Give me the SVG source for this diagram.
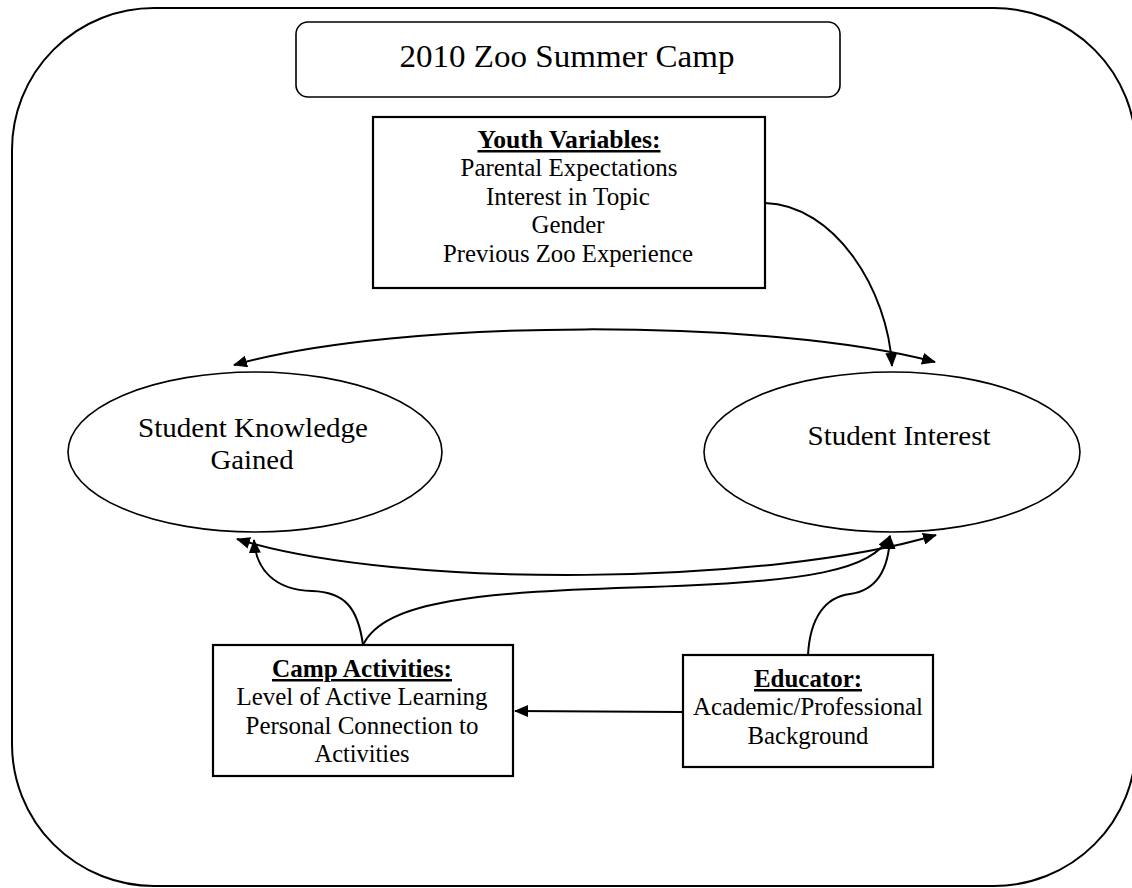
<svg xmlns="http://www.w3.org/2000/svg" width="1132" height="888" viewBox="0 0 1132 888">
  <style>
    .frame { fill: #fff; stroke: #000; stroke-width: 2; }
    .box { fill: #fff; stroke: #000; stroke-width: 2.2; }
    .wire { fill: none; stroke: #000; stroke-width: 2; }
    text { font-family: "Liberation Serif", "Times New Roman", serif; fill: #000; text-anchor: middle; }
    .t { font-size: 25px; }
    .h { font-size: 25px; font-weight: bold; text-decoration: underline; }
    .title { font-size: 32px; }
    .oval { font-size: 27px; }
  </style>
  <defs>
    <marker id="arrow" viewBox="0 0 14 12" refX="13" refY="6" markerWidth="14" markerHeight="12" markerUnits="userSpaceOnUse" orient="auto-start-reverse">
      <path d="M0,0 L14,6 L0,12 Z" fill="#000"/>
    </marker>
  </defs>

  <rect width="1132" height="888" fill="#fff"/>

  <!-- outer camp boundary -->
  <rect id="camp-boundary" class="frame" x="12" y="8" width="1124" height="878" rx="142" ry="142"/>

  <g id="title">
    <rect class="box" x="296" y="22" width="544" height="75" rx="12" ry="12" style="stroke-width:1.6"/>
    <text class="title" x="567" y="67" textLength="335" lengthAdjust="spacingAndGlyphs">2010 Zoo Summer Camp</text>
  </g>

  <g id="youth-variables">
    <rect class="box" x="373" y="117" width="392" height="171"/>
    <text class="h" x="569" y="148" textLength="183" lengthAdjust="spacingAndGlyphs">Youth Variables:</text>
    <text class="t" x="569" y="176" textLength="217" lengthAdjust="spacingAndGlyphs">Parental Expectations</text>
    <text class="t" x="568" y="205" textLength="164" lengthAdjust="spacingAndGlyphs">Interest in Topic</text>
    <text class="t" x="568" y="233" textLength="73" lengthAdjust="spacingAndGlyphs">Gender</text>
    <text class="t" x="568" y="262" textLength="250" lengthAdjust="spacingAndGlyphs">Previous Zoo Experience</text>
  </g>

  <g id="knowledge">
    <ellipse class="frame" cx="255" cy="452" rx="187" ry="80" style="stroke-width:1.6"/>
    <text class="oval" x="253" y="437" textLength="230" lengthAdjust="spacingAndGlyphs">Student Knowledge</text>
    <text class="oval" x="252" y="469" textLength="83" lengthAdjust="spacingAndGlyphs">Gained</text>
  </g>

  <g id="interest">
    <ellipse class="frame" cx="892" cy="452" rx="188" ry="80" style="stroke-width:1.6"/>
    <text class="oval" x="899" y="445" textLength="183" lengthAdjust="spacingAndGlyphs">Student Interest</text>
  </g>

  <g id="camp-activities">
    <rect class="box" x="213" y="645" width="300" height="131"/>
    <text class="h" x="362" y="677" textLength="180" lengthAdjust="spacingAndGlyphs">Camp Activities:</text>
    <text class="t" x="362" y="705" textLength="251" lengthAdjust="spacingAndGlyphs">Level of Active Learning</text>
    <text class="t" x="362" y="734" textLength="233" lengthAdjust="spacingAndGlyphs">Personal Connection to</text>
    <text class="t" x="362" y="762" textLength="95" lengthAdjust="spacingAndGlyphs">Activities</text>
  </g>

  <g id="educator">
    <rect class="box" x="683" y="655" width="250" height="112"/>
    <text class="h" x="808" y="687" textLength="108" lengthAdjust="spacingAndGlyphs">Educator:</text>
    <text class="t" x="808" y="715" textLength="230" lengthAdjust="spacingAndGlyphs">Academic/Professional</text>
    <text class="t" x="808" y="744" textLength="121" lengthAdjust="spacingAndGlyphs">Background</text>
  </g>

  <g id="connectors">
    <!-- youth variables to interest -->
    <path class="wire" d="M765,203 C835,205 888,290 892,366" marker-end="url(#arrow)"/>
    <!-- knowledge <-> interest, upper -->
    <path class="wire" d="M234,365 C400,318 770,318 935,362" marker-start="url(#arrow)" marker-end="url(#arrow)"/>
    <!-- knowledge <-> interest, lower -->
    <path class="wire" d="M237,539 C400,590 770,585 936,535" marker-start="url(#arrow)" marker-end="url(#arrow)"/>
    <!-- camp activities to knowledge -->
    <path class="wire" d="M363,645 C358,608 345,592 312,591 C275,590 256,570 254,540" marker-end="url(#arrow)"/>
    <!-- camp activities to interest -->
    <path class="wire" d="M363,645 C385,600 480,592 650,587 C810,582 872,570 890,536" marker-end="url(#arrow)"/>
    <!-- educator to interest -->
    <path class="wire" d="M808,655 C810,618 825,597 850,594 C880,590 889,565 890,536" marker-end="url(#arrow)"/>
    <!-- educator to camp activities -->
    <path class="wire" d="M683,712 L515,711" marker-end="url(#arrow)"/>
  </g>
</svg>
